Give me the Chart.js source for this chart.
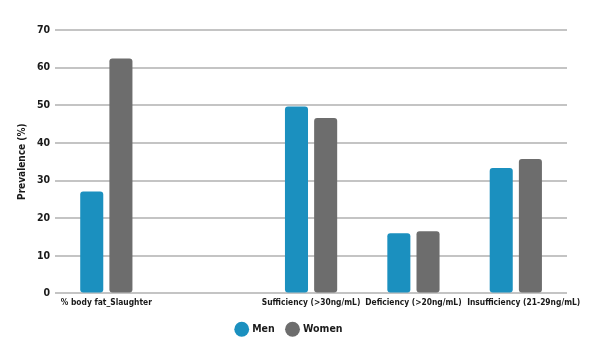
<!DOCTYPE html>
<html>
<head>
<meta charset="utf-8">
<script src="https://cdn.jsdelivr.net/npm/chart.js@4"></script>
<style>
  html, body { margin: 0; padding: 0; background: #fff; }
  #wrap { width: 605px; height: 355px; }
</style>
</head>
<body>
<div id="wrap"><canvas id="prevC"></canvas></div>
<script>
// Categories (second slot left empty as in the original)
const categories = ['% body fat_Slaughter', '', 'Sufficiency (>30ng/mL)', 'Deficiency (>20ng/mL)', '      Insufficiency (21-29ng/mL)'];
const men = [27.1, null, 49.7, 16.0, 33.3];
const women = [62.4, null, 46.6, 16.5, 35.7];
const yTicks = [0, 10, 20, 30, 40, 50, 60, 70];

const FONT = '"DejaVu Sans Condensed", "DejaVu Sans", sans-serif';
const colors = { men: '#1b90bf', women: '#6d6d6d', grid: '#c4c4c4', text: '#1a1a1a' };

new Chart(document.getElementById('prevC'), {
  type: 'bar',
  data: {
    labels: categories,
    datasets: [
      {
        label: 'Men',
        data: men,
        backgroundColor: colors.men,
        borderRadius: 3,
        borderSkipped: false,
        categoryPercentage: 0.57,
        barPercentage: 0.79
      },
      {
        label: 'Women',
        data: women,
        backgroundColor: colors.women,
        borderRadius: 3,
        borderSkipped: false,
        categoryPercentage: 0.57,
        barPercentage: 0.79
      }
    ]
  },
  options: {
    responsive: true,
    maintainAspectRatio: false,
    animation: false,
    layout: { padding: { top: 30, right: 38, left: 12, bottom: 10.5 } },
    plugins: {
      tooltip: { enabled: false },
      legend: {
        position: 'bottom',
        labels: {
          usePointStyle: true,
          pointStyle: 'circle',
          boxWidth: 11,
          boxHeight: 11,
          padding: 12.5,
          color: colors.text,
          font: { family: FONT, size: 10.5, weight: 'bold' }
        }
      }
    },
    scales: {
      x: {
        grid: { display: false, drawTicks: false },
        border: { display: false },
        ticks: {
          color: colors.text,
          maxRotation: 0,
          autoSkip: false,
          padding: 4,
          font: { family: FONT, size: 8.4, weight: 'bold' }
        }
      },
      y: {
        min: 0,
        max: 70,
        afterBuildTicks: axis => { axis.ticks = yTicks.map(v => ({ value: v })); },
        grid: { color: colors.grid, lineWidth: 2, drawTicks: false },
        border: { display: false },
        title: {
          display: true,
          text: 'Prevalence (%)',
          color: colors.text,
          padding: { top: 4, bottom: 4 },
          font: { family: FONT, size: 10, weight: 'bold' }
        },
        ticks: {
          color: colors.text,
          padding: 5,
          font: { family: FONT, size: 10.5, weight: 'bold' }
        }
      }
    }
  }
});
</script>
</body>
</html>
